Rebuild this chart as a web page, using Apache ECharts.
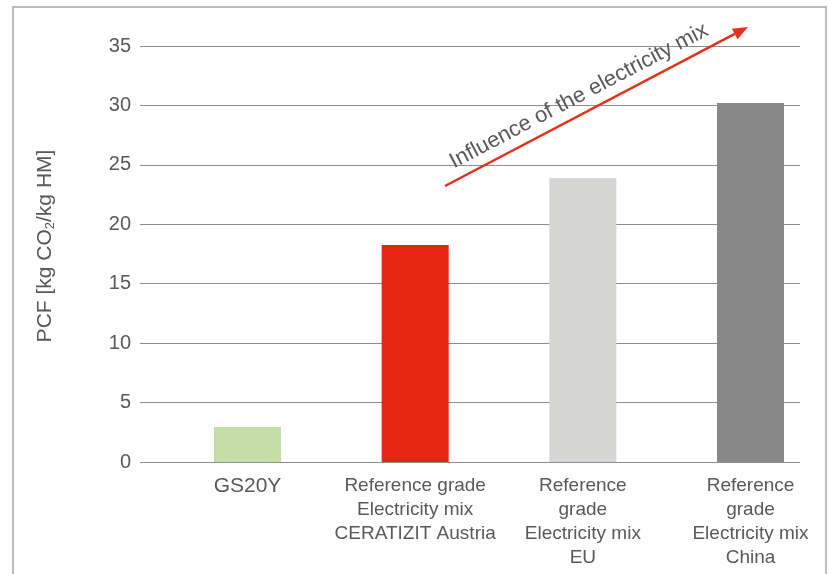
<!DOCTYPE html>
<html><head><meta charset="utf-8">
<script src="https://cdn.jsdelivr.net/npm/echarts@6/dist/echarts.min.js"></script>
<style>html,body{margin:0;padding:0;background:#fff}#c{width:829px;height:574px}</style>
</head><body><div id="c"></div>
<script>
const categories = [
  'GS20Y',
  'Reference grade\nElectricity mix\nCERATIZIT Austria',
  'Reference\ngrade\nElectricity mix\nEU',
  'Reference\ngrade\nElectricity mix\nChina'
];
const values = [2.95, 18.25, 23.9, 30.2];
const barColors = ['#c5dda7', '#e42613', '#d6d6d5', '#888888'];
const yTicks = { min: 0, max: 35, interval: 5 };
const yAxisTitle = ['PCF [kg CO', '2', '/kg HM]'];
const annotation = 'Influence of the electricity mix';

const FONT = 'Liberation Sans, Arial, sans-serif';
const TXT = '#595959';
const chart = echarts.init(document.getElementById('c'));

// Arrow annotation geometry (pixels)
const a0 = [445, 186], a1 = [748, 27];
const ang = Math.atan2(a1[1] - a0[1], a1[0] - a0[0]);
const hl = 15, hw = 6;
const bx = a1[0] - hl * Math.cos(ang), by = a1[1] - hl * Math.sin(ang);
const px = -Math.sin(ang), py = Math.cos(ang);
const head = [[a1[0], a1[1]], [bx + hw * px, by + hw * py], [bx - hw * px, by - hw * py]];

chart.setOption({
  animation: false,
  textStyle: { fontFamily: FONT },
  grid: [
    { left: 140, right: 29, top: 46, bottom: 112 },
    { left: 247.5, width: 503, top: 46, bottom: 112 }
  ],
  xAxis: [
    { gridIndex: 0, type: 'category', data: categories, show: false },
    {
      gridIndex: 1, type: 'category', boundaryGap: false,
      data: categories.map((c, i) => i === 0 ? { value: c, textStyle: { fontSize: 21 } } : c),
      axisLine: { show: false }, axisTick: { show: false },
      axisLabel: { color: TXT, fontSize: 19, lineHeight: 24, margin: 12, interval: 0, fontFamily: FONT }
    }
  ],
  yAxis: [
    {
      gridIndex: 0, type: 'value', min: yTicks.min, max: yTicks.max, interval: yTicks.interval,
      axisLine: { show: false }, axisTick: { show: false },
      axisLabel: { color: TXT, fontSize: 20, margin: 9, fontFamily: FONT },
      splitLine: { lineStyle: { color: '#8e8e8e', width: 1 } },
      name: '{a|' + yAxisTitle[0] + '}{s|' + yAxisTitle[1] + '}{a|' + yAxisTitle[2] + '}',
      nameLocation: 'middle', nameGap: 83,
      nameTextStyle: {
        padding: [0, 0, 0, 16],
        rich: {
          a: { fontSize: 21, color: TXT, fontFamily: FONT },
          s: { fontSize: 13, color: TXT, fontFamily: FONT, padding: [10, 0, 0, 0] }
        }
      }
    },
    {
      gridIndex: 1, type: 'value', min: yTicks.min, max: yTicks.max, interval: yTicks.interval,
      show: false, splitLine: { show: false }
    }
  ],
  series: [{
    type: 'bar', xAxisIndex: 1, yAxisIndex: 1,
    data: values.map((v, i) => ({ value: v, itemStyle: { color: barColors[i] } })),
    barWidth: 67
  }],
  graphic: [
    { type: 'rect', shape: { x: 13, y: 7, width: 813, height: 600 }, style: { fill: 'none', stroke: '#a6a6a6', lineWidth: 1.5 }, z: 0 },
    { type: 'line', shape: { x1: a0[0], y1: a0[1], x2: bx, y2: by }, style: { stroke: '#e5301b', lineWidth: 2.5 }, z: 10 },
    { type: 'polygon', shape: { points: head }, style: { fill: '#e5301b' }, z: 10 },
    {
      type: 'text', x: 579, y: 96, rotation: -ang,
      style: { text: annotation, fill: TXT, font: '22px ' + FONT, align: 'center', verticalAlign: 'middle' },
      z: 10
    }
  ]
});
</script></body></html>
